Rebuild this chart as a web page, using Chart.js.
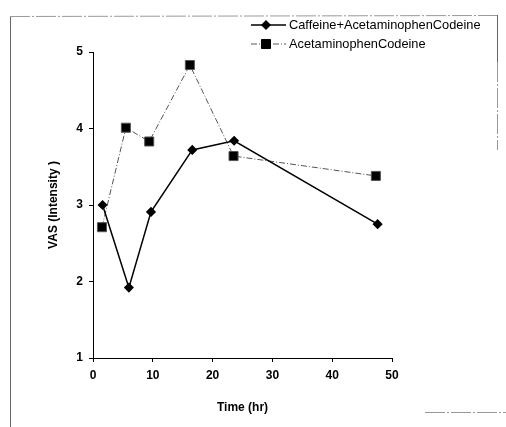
<!DOCTYPE html>
<html>
<head>
<meta charset="UTF-8">
<title>VAS (Intensity) vs Time</title>
<script src="https://cdn.jsdelivr.net/npm/chart.js"></script>
<style>
  html, body { margin: 0; padding: 0; background: #fff; }
  #wrap { width: 506px; height: 427px; }
</style>
</head>
<body>
<div id="wrap"><canvas id="chart" width="506" height="427"></canvas></div>
<script>
// data
const seriesNames = ['Caffeine+AcetaminophenCodeine', 'AcetaminophenCodeine'];
const caffeineTimes = [1.6, 6.0, 9.7, 16.6, 23.6, 47.6];
const caffeineVas = [3.0, 1.92, 2.91, 3.72, 3.84, 2.75];
const acetTimes = [1.5, 5.5, 9.4, 16.2, 23.5, 47.3];
const acetVas = [2.71, 4.01, 3.83, 4.83, 3.64, 3.38];
const xTicks = [0, 10, 20, 30, 40, 50];
const yTicks = [1, 2, 3, 4, 5];

const FONT = "'Liberation Sans', Arial, sans-serif";

const toPoints = (xs, ys) => xs.map((x, i) => ({ x, y: ys[i] }));

// scanned page frame
const framePlugin = {
    id: 'frame',
    beforeDraw(c) {
        const g = c.ctx;
        g.save();
        g.strokeStyle = '#666';
        g.lineWidth = 1;
        g.beginPath();
        g.moveTo(10.5, 17); g.lineTo(10.5, 427);
        g.moveTo(497.5, 15); g.lineTo(497.5, 62);
        g.stroke();
        g.strokeStyle = '#999';
        g.setLineDash([20, 2, 2, 2]);
        g.beginPath();
        g.moveTo(10, 16.5); g.lineTo(497, 15.5);
        g.moveTo(497.5, 62); g.lineTo(497.5, 150);
        g.moveTo(425, 412.5); g.lineTo(506, 412.5);
        g.stroke();
        g.restore();
    }
};

// legend with line + marker samples
const legendPlugin = {
    id: 'vasLegend',
    afterDatasetsDraw(c) {
        const g = c.ctx;
        const rows = [25, 44];
        c.data.datasets.forEach((ds, i) => {
            const y = rows[i];
            g.save();
            g.strokeStyle = ds.borderColor;
            g.lineWidth = ds.borderWidth;
            g.setLineDash(ds.borderDash || []);
            g.beginPath();
            g.moveTo(251, y); g.lineTo(286, y);
            g.stroke();
            g.setLineDash([]);
            g.fillStyle = '#000';
            g.strokeStyle = '#000';
            Chart.helpers.drawPoint(g, { pointStyle: ds.pointStyle, radius: ds.pointRadius, borderWidth: 1, rotation: 0 }, 266, y);
            g.fillStyle = '#000';
            g.font = '12.8px ' + FONT;
            g.textBaseline = 'middle';
            g.fillText(seriesNames[i], 289, y);
            g.restore();
        });
    }
};

new Chart(document.getElementById('chart'), {
    type: 'line',
    data: {
        datasets: [
            {
                label: seriesNames[0],
                data: toPoints(caffeineTimes, caffeineVas),
                borderColor: '#000',
                backgroundColor: '#000',
                borderWidth: 1.5,
                pointStyle: 'rectRot',
                pointRadius: 4,
                tension: 0
            },
            {
                label: seriesNames[1],
                data: toPoints(acetTimes, acetVas),
                borderColor: '#555',
                backgroundColor: '#000',
                borderWidth: 1,
                borderDash: [6, 2, 1, 2],
                pointStyle: 'rect',
                pointRadius: 6.4,
                tension: 0
            }
        ]
    },
    options: {
        responsive: false,
        animation: false,
        layout: { padding: { left: 10, right: 114, top: 52, bottom: 8 } },
        plugins: { legend: { display: false }, tooltip: { enabled: false } },
        scales: {
            x: {
                type: 'linear',
                min: 0, max: 50,
                afterBuildTicks: s => { s.ticks = xTicks.map(v => ({ value: v })); },
                afterFit: s => { s.height = 61; },
                grid: { drawOnChartArea: false, tickLength: 4, color: '#000' },
                border: { color: '#000', width: 1 },
                ticks: { color: '#000', font: { family: FONT, size: 12, weight: 'bold' }, padding: 6, maxRotation: 0 },
                title: { display: true, text: 'Time (hr)', color: '#000', font: { family: FONT, size: 12, weight: 'bold' }, padding: { top: 11 } }
            },
            y: {
                min: 1, max: 5,
                afterBuildTicks: s => { s.ticks = yTicks.map(v => ({ value: v })); },
                afterFit: s => { s.width = 83; },
                grid: { drawOnChartArea: false, tickLength: 4, color: '#000' },
                border: { color: '#000', width: 1 },
                ticks: { color: '#000', font: { family: FONT, size: 12, weight: 'bold' }, padding: 6 },
                title: { display: true, text: 'VAS (Intensity )', color: '#000', font: { family: FONT, size: 12, weight: 'bold' }, padding: { top: 36 } }
            }
        }
    },
    plugins: [framePlugin, legendPlugin]
});
</script>
</body>
</html>
